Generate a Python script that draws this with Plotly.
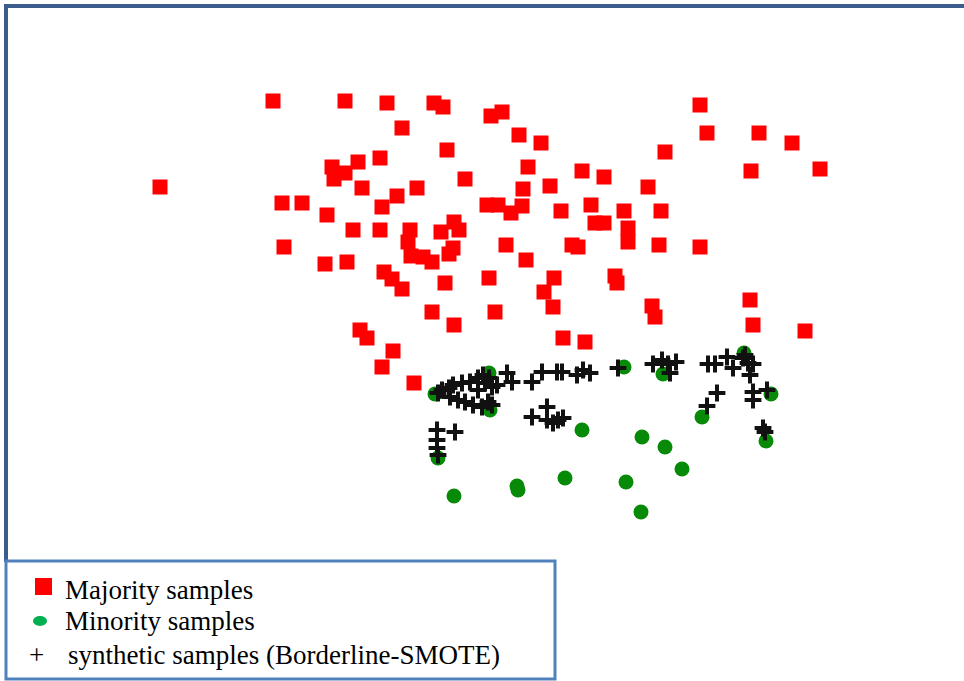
import plotly.graph_objects as go

# Majority class samples (x, y)
maj_x = [160, 273, 345, 387, 434, 443, 491, 502, 700, 402, 519, 541, 707, 759, 792, 665,
         447, 751, 820, 332, 345, 334, 358, 380, 528, 582, 604, 648, 465, 550, 523, 417,
         362, 397, 282, 302, 327, 382, 487, 498, 511, 522, 561, 591, 624, 661, 595, 604,
         628, 628, 441, 454, 459, 410, 380, 353, 284, 408, 411, 423, 432, 453, 449, 506,
         572, 578, 659, 700, 325, 347, 384, 392, 402, 445, 489, 526, 554, 544, 615, 617,
         432, 454, 495, 553, 652, 655, 750, 753, 805, 360, 367, 393, 382, 414, 563, 585]
maj_y = [187, 101, 101, 103, 103, 107, 116, 112, 105, 128, 135, 143, 133, 133, 143, 152,
         150, 171, 169, 167, 173, 179, 162, 158, 167, 171, 177, 187, 179, 186, 189, 188,
         188, 196, 203, 203, 215, 207, 205, 205, 213, 206, 211, 205, 211, 211, 223, 223,
         228, 242, 232, 222, 230, 230, 230, 230, 247, 242, 256, 257, 262, 248, 254, 245,
         245, 247, 245, 247, 264, 262, 272, 279, 289, 283, 278, 260, 278, 292, 276, 283,
         312, 325, 312, 307, 306, 317, 300, 325, 331, 330, 338, 351, 367, 383, 338, 342]

# Minority class samples
min_x = [435, 489, 490, 438, 582, 624, 663, 744, 771, 702, 642, 665, 766, 682, 454, 517,
         518, 565, 626, 641]
min_y = [394, 373, 410, 458, 430, 367, 374, 353, 394, 417, 437, 447, 441, 469, 496, 486,
         490, 478, 482, 512]

# Synthetic samples generated by Borderline-SMOTE
syn_x = [438, 442, 449, 453, 462, 470, 478, 483, 450, 458, 465, 473, 482, 478, 485, 492,
         497, 488, 492, 489, 507, 512, 532, 542, 557, 562, 577, 583, 590, 532, 547, 547,
         553, 558, 563, 437, 437, 437, 455, 438, 618, 653, 662, 668, 676, 670, 708, 715,
         727, 733, 743, 748, 753, 750, 745, 753, 753, 767, 717, 707, 763, 765]
syn_y = [393, 390, 388, 385, 383, 382, 378, 375, 397, 400, 402, 405, 407, 390, 383, 387,
         385, 402, 405, 378, 373, 382, 382, 372, 372, 372, 375, 370, 373, 417, 407, 420,
         423, 420, 418, 430, 440, 448, 432, 455, 368, 364, 360, 364, 362, 373, 364, 364,
         357, 368, 358, 363, 364, 375, 355, 392, 400, 390, 393, 406, 428, 432]

legend_labels = ["Majority samples", "Minority samples", "synthetic samples (Borderline-SMOTE)"]

W, H = 964, 681
FRAME = "#3A5D8C"
BOX = "#4F81BD"
FONT = "Liberation Serif, Times New Roman, serif"

fig = go.Figure()

fig.add_trace(go.Scatter(
    x=maj_x, y=maj_y, mode="markers",
    marker=dict(symbol="square", size=15, color="#FF0000", line=dict(width=0)),
    hoverinfo="skip", showlegend=False))

fig.add_trace(go.Scatter(
    x=min_x, y=min_y, mode="markers",
    marker=dict(symbol="circle", size=15, color="#078A07", line=dict(width=0)),
    hoverinfo="skip", showlegend=False))

fig.add_trace(go.Scatter(
    x=syn_x, y=syn_y, mode="markers",
    marker=dict(symbol="cross-thin", size=12, color="#111111",
                line=dict(width=4, color="#111111")),
    hoverinfo="skip", showlegend=False))

shapes = [
    # outer frame: top and left edges
    dict(type="rect", x0=4, x1=W, y0=4, y1=8, fillcolor=FRAME, line=dict(width=0)),
    dict(type="rect", x0=4, x1=8, y0=4, y1=562, fillcolor=FRAME, line=dict(width=0)),
    # legend box
    dict(type="rect", x0=6, x1=555, y0=561, y1=679, fillcolor="white",
         line=dict(color=BOX, width=3)),
    # legend keys
    dict(type="rect", x0=35, x1=52, y0=578, y1=595, fillcolor="#FF0000",
         line=dict(width=0)),
    dict(type="circle", x0=33, x1=47, y0=616, y1=626, fillcolor="#00B050",
         line=dict(width=0)),
]

annotations = [
    dict(x=63, y=590, text=legend_labels[0], xanchor="left", yanchor="middle",
         showarrow=False, font=dict(family=FONT, size=27, color="black")),
    dict(x=63, y=621, text=legend_labels[1], xanchor="left", yanchor="middle",
         showarrow=False, font=dict(family=FONT, size=27, color="black")),
    dict(x=36, y=655, text="+", xanchor="center", yanchor="middle",
         showarrow=False, font=dict(family=FONT, size=27, color="black")),
    dict(x=66, y=655, text=legend_labels[2], xanchor="left", yanchor="middle",
         showarrow=False, font=dict(family=FONT, size=27, color="black")),
]

fig.update_layout(
    width=W, height=H,
    margin=dict(l=0, r=0, t=0, b=0),
    paper_bgcolor="white", plot_bgcolor="white",
    xaxis=dict(range=[0, W], visible=False, fixedrange=True),
    yaxis=dict(range=[H, 0], visible=False, fixedrange=True),
    shapes=shapes, annotations=annotations,
    showlegend=False,
)

fig.write_html("out.html", config={"displayModeBar": False})
